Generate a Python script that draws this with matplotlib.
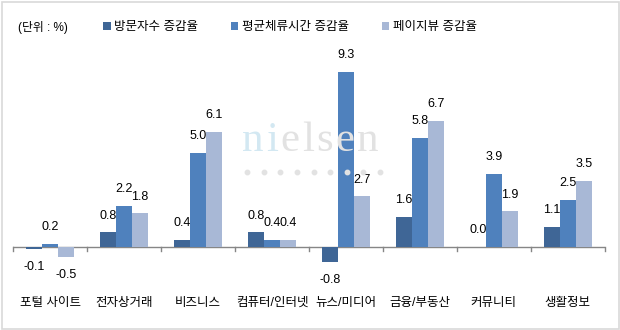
import numpy as np
import matplotlib
matplotlib.use("Agg")
import matplotlib.pyplot as plt
from matplotlib.patches import Rectangle

plt.rcParams['font.family'] = ['Liberation Sans', 'Noto Sans CJK KR', 'DejaVu Sans']

categories = ["포털 사이트", "전자상거래", "비즈니스", "컴퓨터/인터넷",
              "뉴스/미디어", "금융/부동산", "커뮤니티", "생활정보"]
series_names = ["방문자수 증감율", "평균체류시간 증감율", "페이지뷰 증감율"]
visitors = [-0.1, 0.8, 0.4, 0.8, -0.8, 1.6, 0.04, 1.1]
stay_time = [0.2, 2.2, 5.0, 0.4, 9.3, 5.8, 3.9, 2.5]
page_views = [-0.5, 1.8, 6.1, 0.4, 2.7, 6.7, 1.9, 3.5]
colors = ["#3F6696", "#4F81BD", "#A8B8D6"]

W, H = 620, 330
fig = plt.figure(figsize=(W / 100, H / 100), dpi=100)

# chart border
fig.patches.append(Rectangle((1.5 / W, 1.5 / H), 617 / W, 327 / H,
                             transform=fig.transFigure, fill=False,
                             edgecolor="#D9D9D9", linewidth=1.2))

# plot area: zero line at y=247px, ~18.9 px per unit
ax = fig.add_axes([13.3 / W, (H - 285.1) / H, 591.4 / W, 226.8 / H])
ax.set_xlim(-0.5, 7.5)
ax.set_ylim(-2, 10)
for s in ax.spines.values():
    s.set_visible(False)
ax.set_yticks([])
ax.set_xticks([])
ax.patch.set_alpha(0)

# nielsen watermark, drawn letter by letter (it is letter-spaced)
wm_size = 31
wm_widths = {"n": 0.5, "i": 0.278, "e": 0.444, "l": 0.278, "s": 0.389}
px = 242
for k, ch in enumerate("nielsen"):
    c = "#D3E8F2" if k < 2 else "#E2E2E2"
    fig.text(px / W, 1 - 151 / H, ch, fontsize=wm_size, family="Liberation Serif",
             color=c, va="baseline", ha="left", zorder=0)
    px += wm_widths[ch] * wm_size * 100 / 72 + 2.5
dots_x = np.linspace(247, 380, 9) / W
fig.lines.append(plt.Line2D(dots_x, [1 - 172 / H] * 9, transform=fig.transFigure,
                            linestyle="none", marker="o", markersize=3.2,
                            color="#E2E2E2", zorder=0))

x = np.arange(len(categories))
bw = 0.216
data = [visitors, stay_time, page_views]
bars = []
for i, (vals, c) in enumerate(zip(data, colors)):
    b = ax.bar(x + (i - 1) * bw, vals, bw, color=c, zorder=2, label=series_names[i])
    bars.append(b)
    for xi, v in zip(x + (i - 1) * bw, vals):
        off = 12 if v >= 0 else -13
        ax.annotate(f"{v:.1f}", (xi, v), xytext=(0, off), textcoords="offset points",
                    ha="center", va="center", fontsize=9, color="black", zorder=3)

# axis line with ticks at category boundaries
ax.axhline(0, color="#868686", linewidth=1, zorder=1)
for b in np.arange(-0.5, 8, 1.0):
    ax.plot([b, b], [0, -0.17], color="#868686", linewidth=1, zorder=1,
            clip_on=False)
for xi, cat in zip(x, categories):
    ax.text(xi, -2.95, cat, ha="center", va="center", fontsize=9)

fig.text(18 / W, 1 - 27 / H, "(단위 : %)", fontsize=8.5, va="center", ha="left")
fig.legend(handles=bars, labels=series_names, loc="center left",
           bbox_to_anchor=(103 / W, 1 - 27 / H), ncol=3, frameon=False,
           fontsize=9, handlelength=0.6, handleheight=0.6, handletextpad=0.3,
           columnspacing=2.6, borderpad=0, borderaxespad=0)

fig.savefig("out.png", dpi=100)
